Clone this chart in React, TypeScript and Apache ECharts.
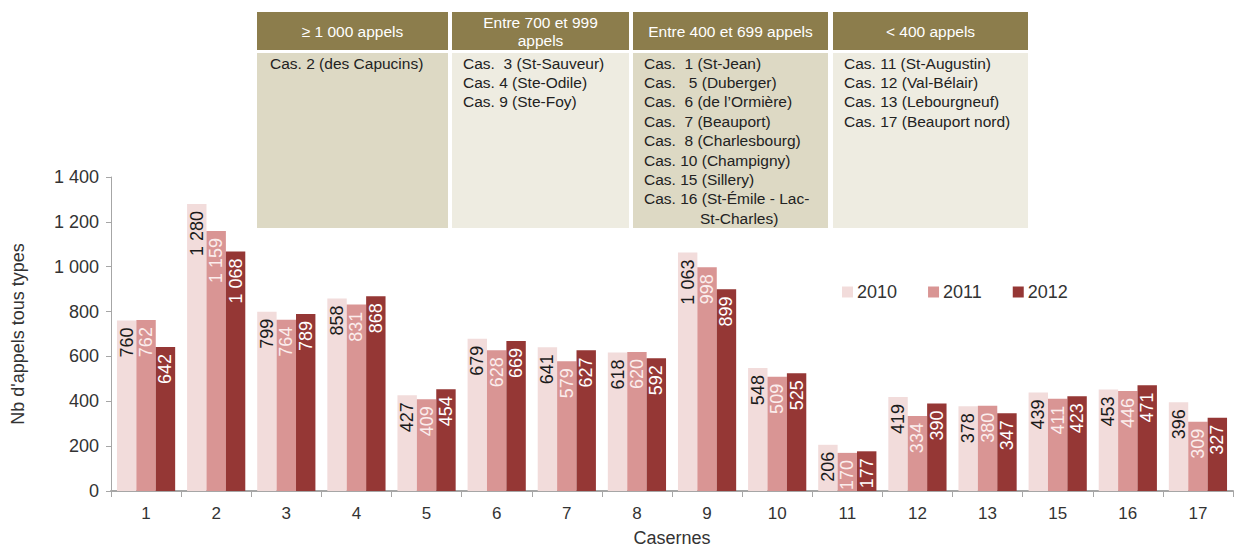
import React, { useEffect, useRef } from "react";
import * as echarts from "echarts";

const categories = ["1", "2", "3", "4", "5", "6", "7", "8", "9", "10", "11", "12", "13", "15", "16", "17"];
const values2010 = [760, 1280, 799, 858, 427, 679, 641, 618, 1063, 548, 206, 419, 378, 439, 453, 396];
const values2011 = [762, 1159, 764, 831, 409, 628, 579, 620, 998, 509, 170, 334, 380, 411, 446, 309];
const values2012 = [642, 1068, 789, 868, 454, 669, 627, 592, 899, 525, 177, 390, 347, 423, 471, 327];
const seriesNames = ["2010", "2011", "2012"];
const yTicks = { min: 0, max: 1400, interval: 200 };

const tableHeaders = ["≥ 1 000 appels", "Entre 700 et 999\nappels", "Entre 400 et 699 appels", "< 400 appels"];
const tableCol1 = ["Cas. 2 (des Capucins)"];
const tableCol2 = ["Cas.  3 (St-Sauveur)", "Cas. 4 (Ste-Odile)", "Cas. 9 (Ste-Foy)"];
const tableCol3 = [
  "Cas.  1 (St-Jean)",
  "Cas.   5 (Duberger)",
  "Cas.  6 (de l’Ormière)",
  "Cas.  7 (Beauport)",
  "Cas.  8 (Charlesbourg)",
  "Cas. 10 (Champigny)",
  "Cas. 15 (Sillery)",
  "Cas. 16 (St-Émile - Lac-",
];
const tableCol3Cont = "St-Charles)";
const tableCol4 = ["Cas. 11 (St-Augustin)", "Cas. 12 (Val-Bélair)", "Cas. 13 (Lebourgneuf)", "Cas. 17 (Beauport nord)"];

const FONT = "'Liberation Sans', Arial, Helvetica, sans-serif";
const COLORS = ["#F2DCDB", "#D99594", "#953735"];
const LABEL_COLORS = ["#1a1a1a", "#FBEDEC", "#FFFFFF"];

const fmt = (v: number) => {
  const s = String(Math.round(v));
  return s.replace(/\B(?=(\d{3})+(?!\d))/g, " ");
};

function buildTable(): any[] {
  const cols = [
    { x: 257, w: 191, bg: "#DDD9C4", lines: tableCol1 },
    { x: 452, w: 177, bg: "#EEECE1", lines: tableCol2 },
    { x: 633, w: 195, bg: "#DDD9C4", lines: tableCol3 },
    { x: 833, w: 195, bg: "#EEECE1", lines: tableCol4 },
  ];
  const els: any[] = [];
  const lh = 19.4;
  cols.forEach((c, i) => {
    els.push({ type: "rect", shape: { x: c.x, y: 12, width: c.w, height: 38 }, style: { fill: "#8C7D4C" }, silent: true });
    els.push({ type: "rect", shape: { x: c.x, y: 53, width: c.w, height: 175 }, style: { fill: c.bg }, silent: true });
    els.push({
      type: "text",
      x: c.x + c.w / 2,
      y: 31,
      style: {
        text: tableHeaders[i],
        fill: "#FFFFFF",
        font: `15.5px ${FONT}`,
        align: "center",
        verticalAlign: "middle",
        lineHeight: 18,
      },
      silent: true,
    });
    c.lines.forEach((t, j) => {
      els.push({
        type: "text",
        x: c.x + (i === 0 ? 13 : 11),
        y: 63 + j * lh,
        style: { text: t, fill: "#222222", font: `15.5px ${FONT}`, align: "left", verticalAlign: "middle" },
        silent: true,
      });
    });
  });
  els.push({
    type: "text",
    x: 700,
    y: 63 + 8 * lh,
    style: { text: tableCol3Cont, fill: "#222222", font: `15.5px ${FONT}`, align: "left", verticalAlign: "middle" },
    silent: true,
  });
  return els;
}

export default function App() {
  const ref = useRef<HTMLDivElement>(null);
  useEffect(() => {
    if (!ref.current) return;
    const chart = echarts.init(ref.current, undefined, { renderer: "svg" });
    const data = [values2010, values2011, values2012];
    chart.setOption({
      animation: false,
      backgroundColor: "#FFFFFF",
      textStyle: { fontFamily: FONT },
      grid: { left: 111, right: 3, top: 177, bottom: 58, containLabel: false },
      legend: {
        data: seriesNames,
        left: 837,
        top: 278,
        itemWidth: 11,
        itemHeight: 11,
        itemGap: 31,
        icon: "rect",
        textStyle: { fontSize: 18, color: "#333333", fontFamily: FONT, padding: [0, 0, 0, -1] },
      },
      xAxis: {
        type: "category",
        data: categories,
        name: "Casernes",
        nameLocation: "middle",
        nameGap: 38,
        nameTextStyle: { fontSize: 18, color: "#333333", fontFamily: FONT },
        axisLine: { show: true, lineStyle: { color: "#A6A6A6", width: 2 } },
        axisTick: { show: true, alignWithLabel: false, length: 6, lineStyle: { color: "#A6A6A6" } },
        axisLabel: { fontSize: 17, color: "#333333", margin: 14, fontFamily: FONT },
      },
      yAxis: {
        type: "value",
        min: yTicks.min,
        max: yTicks.max,
        interval: yTicks.interval,
        name: "Nb d'appels tous types",
        nameLocation: "middle",
        nameGap: 84,
        nameTextStyle: { fontSize: 18, color: "#333333", fontFamily: FONT },
        axisLine: { show: true, lineStyle: { color: "#A6A6A6", width: 1 } },
        axisTick: { show: true, length: 5, lineStyle: { color: "#A6A6A6" } },
        splitLine: { show: false },
        axisLabel: { fontSize: 18, color: "#333333", margin: 12, formatter: (v: number) => fmt(v), fontFamily: FONT },
      },
      series: seriesNames.map((name, i) => ({
        name,
        type: "bar",
        data: data[i],
        barGap: "0%",
        barCategoryGap: "17%",
        itemStyle: { color: COLORS[i] },
        label: {
          show: true,
          position: "insideTop",
          distance: 7,
          rotate: 90,
          align: "right",
          verticalAlign: "middle",
          fontSize: 18,
          color: LABEL_COLORS[i],
          fontFamily: FONT,
          formatter: (p: any) => fmt(p.value),
        },
      })),
      graphic: buildTable(),
    });
    return () => chart.dispose();
  }, []);
  return <div ref={ref} style={{ position: "fixed", left: 0, top: 0, width: 1236, height: 552 }} />;
}
